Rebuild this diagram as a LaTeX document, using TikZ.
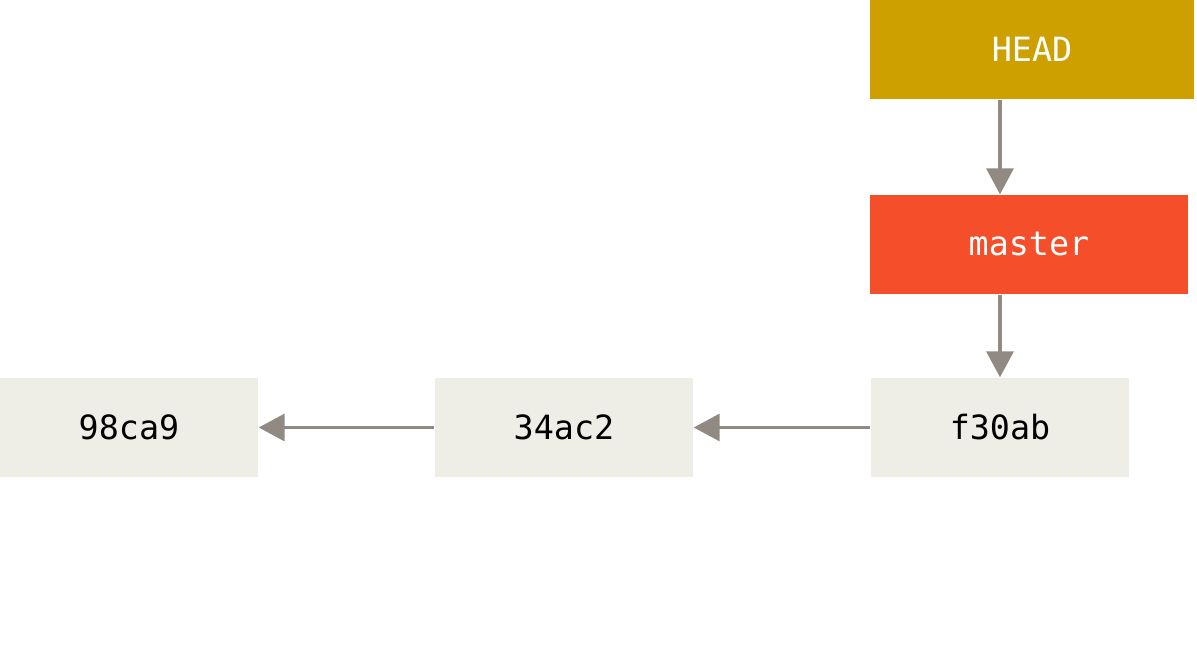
\documentclass[tikz,border=0pt]{standalone}
\usepackage{fontspec}
\setmonofont{DejaVu Sans Mono}
\usepackage{xcolor}
\usetikzlibrary{arrows.meta}
\definecolor{headcol}{RGB}{205,160,0}
\definecolor{branchcol}{RGB}{245,78,42}
\definecolor{commitcol}{RGB}{239,238,230}
\definecolor{arrowcol}{RGB}{145,138,131}

\tikzset{
  box/.style={minimum height=0.99cm, inner sep=0pt, font=\ttfamily\fontsize{9.5}{11}\selectfont},
  commit/.style={box, fill=commitcol, minimum width=2.58cm, text=black},
  ref/.style={box, text=white},
  link/.style={draw=arrowcol, line width=1pt, -{Triangle[length=0.26cm, width=0.27cm]}}
}

\begin{document}
\begin{tikzpicture}
\useasboundingbox (0,0) rectangle (11.97,6.60);
\node[ref, fill=headcol, minimum width=3.24cm] (HEAD) at (10.32,6.105) {HEAD};
\node[ref, fill=branchcol, minimum width=3.18cm] (master) at (10.29,4.155) {master};

\node[commit] (f30ab) at (10.0,2.325) {f30ab};
\node[commit] (34ac2) at (5.64,2.325) {34ac2};
\node[commit] (98ca9) at (1.29,2.325) {98ca9};

\draw[link] (HEAD.south -| f30ab) -- (master.north -| f30ab);
\draw[link] (master.south -| f30ab) -- (f30ab.north);
\draw[link] (f30ab) -- (34ac2);
\draw[link] (34ac2) -- (98ca9);
\end{tikzpicture}
\end{document}
